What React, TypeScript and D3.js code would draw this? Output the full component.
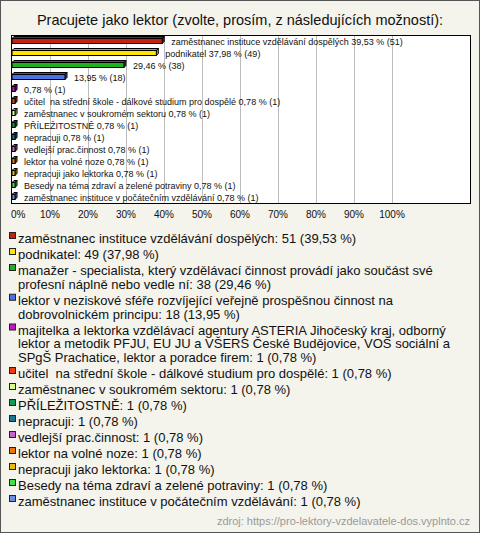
import React from "react";
import * as d3 from "d3";

const title = "Pracujete jako lektor (zvolte, prosím, z následujících možností):";
const categories = [
  "zaměstnanec instituce vzdělávání dospělých",
  "podnikatel",
  "manažer - specialista, který vzdělávací činnost provádí jako součást své profesní náplně nebo vedle ní",
  "lektor v neziskové sféře rozvíjející veřejně prospěšnou činnost na dobrovolnickém principu",
  "majitelka a lektorka vzdělávací agentury ASTERIA Jihočeský kraj, odborný lektor a metodik PFJU, EU JU a VŠERS České Budějovice, VOŠ sociální a SPgŠ Prachatice, lektor a poradce firem",
  "učitel  na střední škole - dálkové studium pro dospělé",
  "zaměstnanec v soukromém sektoru",
  "PŘÍLEŽITOSTNĚ",
  "nepracuji",
  "vedlejší prac.činnost",
  "lektor na volné noze",
  "nepracuji jako lektorka",
  "Besedy na téma zdraví a zelené potraviny",
  "zaměstnanec instituce v počátečním vzdělávání",
];
const counts = [51, 49, 38, 18, 1, 1, 1, 1, 1, 1, 1, 1, 1, 1];
const percents = [39.53, 37.98, 29.46, 13.95, 0.78, 0.78, 0.78, 0.78, 0.78, 0.78, 0.78, 0.78, 0.78, 0.78];
const showNameOnBar = [true, true, false, false, false, true, true, true, true, true, true, true, true, true];
const colors = [
  "#c8200e", "#ffe600", "#1fb21f", "#4a72e6", "#c414c8", "#e8400a", "#d8ff88",
  "#129a52", "#1c7494", "#c466c8", "#e8780e", "#e8b818", "#44e044", "#6a8ee0",
];
const xTicks = [0, 10, 20, 30, 40, 50, 60, 70, 80, 90, 100];
const source = "zdroj: https://pro-lektory-vzdelavatele-dos.vyplnto.cz";

const FONT = "'Liberation Sans', Arial, sans-serif";

function fmt(v: number) {
  return v.toFixed(2).replace(".", ",");
}

function wrap(text: string, maxW: number, font: string): string[] {
  const c = document.createElement("canvas").getContext("2d")!;
  c.font = font;
  const words = text.split(" ");
  const lines: string[] = [];
  let cur = "";
  for (const w of words) {
    const t = cur === "" ? w : cur + " " + w;
    if (c.measureText(t).width > maxW && cur !== "") {
      lines.push(cur);
      cur = w;
    } else cur = t;
  }
  if (cur) lines.push(cur);
  return lines;
}

export default function App() {
  const W = 480, H = 533;

  const plotL = 11, plotR = 470, plotT = 35, plotB = 203;
  const x = d3.scaleLinear().domain([0, 100]).range([12, 392]);
  const y = d3.scaleBand<number>().domain(d3.range(categories.length)).range([plotT, plotB]);
  const d = 2;

  const legendFont = `13px ${FONT}`;
  let yy = 243;
  const legendItems = categories.map((cat, i) => {
    const txt = `${cat}: ${counts[i]} (${fmt(percents[i])} %)`;
    const lines = wrap(txt, 452, legendFont);
    const item = { i, lines, y0: yy };
    yy += (lines.length - 1) * 13.75 + 16;
    return item;
  });

  return (
    <div style={{ position: "absolute", left: 0, top: 0 }}>
      <svg width={W} height={H} style={{ display: "block" }}>
        <rect x={0.5} y={0.5} width={W - 1} height={H - 1} fill="#f4f3ec" stroke="#555" />
        <text x={W / 2} y={25} textAnchor="middle" fontFamily={FONT} fontSize={14.5} fill="#111">
          {title}
        </text>
        <rect x={plotL + 0.5} y={plotT + 0.5} width={plotR - plotL} height={plotB - plotT} fill="#fff" stroke="none" />
        {xTicks.slice(1).map((t) => (
          <line key={t} x1={Math.round(x(t)) + 0.5} x2={Math.round(x(t)) + 0.5} y1={plotT + 1} y2={plotB} stroke="#bdbdbd" />
        ))}
        <rect x={plotL + 0.5} y={plotT + 0.5} width={plotR - plotL} height={plotB - plotT} fill="none" stroke="#000" />
        {counts.map((c, i) => {
          const yc = (y(i) as number) + y.bandwidth() / 2;
          const x0 = x(0);
          const x1 = Math.max(x(percents[i]), x0 + 3);
          const top = Math.round(yc) - 2.5;
          const h = 5;
          const col = colors[i];
          const dark = d3.color(col)!.darker(0.8).formatHex();
          const label = (showNameOnBar[i] ? categories[i] + " " : "") + `${fmt(percents[i])} % (${c})`;
          return (
            <g key={i}>
              <polygon
                points={`${x0},${top} ${x0 + d},${top - d} ${x1 + d},${top - d} ${x1},${top}`}
                fill={dark}
                stroke="#000"
                strokeWidth={1}
              />
              <polygon
                points={`${x1},${top} ${x1 + d},${top - d} ${x1 + d},${top + h - d} ${x1},${top + h}`}
                fill={dark}
                stroke="#000"
                strokeWidth={1}
              />
              <rect x={x0} y={top} width={x1 - x0} height={h} fill={col} stroke="#000" strokeWidth={1} />
              <text x={x1 + d + 7} y={yc + 3.5} fontFamily={FONT} fontSize={9} fill="#111" style={{ whiteSpace: "pre" }}>
                {label}
              </text>
            </g>
          );
        })}
        {xTicks.map((t) => (
          <text
            key={t}
            x={t === 0 ? 11 : x(t)}
            y={218}
            textAnchor={t === 0 ? "start" : "middle"}
            fontFamily={FONT}
            fontSize={10}
            fill="#111"
          >
            {t}%
          </text>
        ))}
        {legendItems.map((it) => (
          <g key={it.i}>
            <rect x={9.5} y={it.y0 - 10.5} width={6} height={6} fill={colors[it.i]} stroke="#222" />
            <text fontFamily={FONT} fontSize={13} fill="#111" style={{ whiteSpace: "pre" }}>
              {it.lines.map((ln, k) => (
                <tspan key={k} x={18} y={it.y0 + k * 13.75}>
                  {ln}
                </tspan>
              ))}
            </text>
          </g>
        ))}
        <text x={470} y={525} textAnchor="end" fontFamily={FONT} fontSize={11} fill="#9a9a9a">
          {source}
        </text>
      </svg>
    </div>
  );
}
